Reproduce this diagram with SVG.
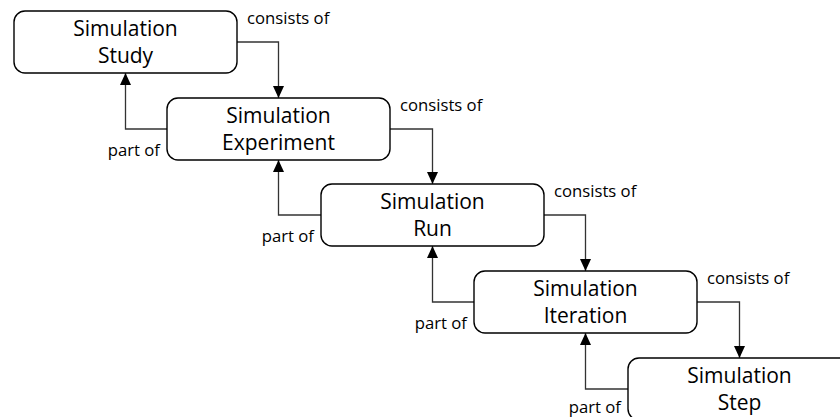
<svg xmlns="http://www.w3.org/2000/svg" width="840" height="417" viewBox="0 0 840 417">
  <style>
    .box { fill: #ffffff; stroke: #000000; stroke-width: 1.4; }
    .title { font-family: "Open Sans", "Liberation Sans", sans-serif; font-size: 21px; fill: #000000; text-anchor: middle; }
    .lbl { font-family: "Open Sans", "Liberation Sans", sans-serif; font-size: 16.7px; fill: #000000; }
    .lbl-r { text-anchor: end; }
    .wire { fill: none; stroke: #333333; stroke-width: 1.3; marker-end: url(#arrow); }
  </style>
  <defs>
    <marker id="arrow" markerUnits="userSpaceOnUse" markerWidth="12" markerHeight="12" viewBox="0 0 12 12" refX="12" refY="6" orient="auto">
      <path d="M0,0.5 L12,6 L0,11.5 Z" fill="#000000"/>
    </marker>
  </defs>

  <rect width="840" height="417" fill="#ffffff"/>

  <!-- connectors: "consists of" goes down-right, "part of" goes up-left -->
  <g id="connectors">
    <path class="wire" d="M237,42 H278.5 V98"/>
    <path class="wire" d="M167,129 H125.5 V73"/>
    <path class="wire" d="M390,129 H432.5 V184"/>
    <path class="wire" d="M321,215 H278.5 V160"/>
    <path class="wire" d="M544,215 H585.5 V271"/>
    <path class="wire" d="M474,302 H432.5 V246"/>
    <path class="wire" d="M697,302 H739.5 V358"/>
    <path class="wire" d="M628,389 H585.5 V333"/>
  </g>

  <g id="labels">
    <text class="lbl" x="247" y="24">consists of</text>
    <text class="lbl" x="400" y="111">consists of</text>
    <text class="lbl" x="554" y="197">consists of</text>
    <text class="lbl" x="707" y="284">consists of</text>
    <text class="lbl lbl-r" x="160" y="156">part of</text>
    <text class="lbl lbl-r" x="314" y="242">part of</text>
    <text class="lbl lbl-r" x="467" y="329">part of</text>
    <text class="lbl lbl-r" x="621" y="413">part of</text>
  </g>

  <g id="study">
    <rect class="box" x="14" y="11" width="223" height="62" rx="11"/>
    <text class="title" x="125.5" y="36">Simulation</text>
    <text class="title" x="125.5" y="63">Study</text>
  </g>
  <g id="experiment">
    <rect class="box" x="167" y="98" width="223" height="62" rx="11"/>
    <text class="title" x="278.5" y="123">Simulation</text>
    <text class="title" x="278.5" y="150">Experiment</text>
  </g>
  <g id="run">
    <rect class="box" x="321" y="184" width="223" height="62" rx="11"/>
    <text class="title" x="432.5" y="209">Simulation</text>
    <text class="title" x="432.5" y="236">Run</text>
  </g>
  <g id="iteration">
    <rect class="box" x="474" y="271" width="223" height="62" rx="11"/>
    <text class="title" x="585.5" y="296">Simulation</text>
    <text class="title" x="585.5" y="323">Iteration</text>
  </g>
  <g id="step">
    <rect class="box" x="628" y="358" width="223" height="62" rx="11"/>
    <text class="title" x="739.5" y="383">Simulation</text>
    <text class="title" x="739.5" y="410">Step</text>
  </g>
</svg>
